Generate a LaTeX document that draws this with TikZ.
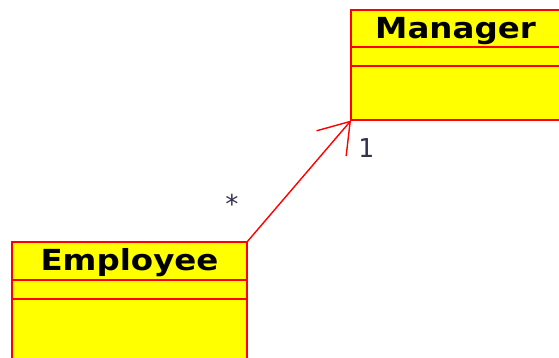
\documentclass[tikz,border=0pt]{standalone}
\usepackage{fontspec}
\usetikzlibrary{positioning,arrows.meta}
\newfontfamily\classfont{DejaVu Sans Bold}[FakeStretch=1.12]
\newfontfamily\multfont{DejaVu Sans Mono}
\definecolor{multcolor}{RGB}{50,50,80}
\definecolor{classfill}{RGB}{255,255,0}
\definecolor{classline}{RGB}{255,0,0}
\tikzset{
  classname/.style={draw=classline,fill=classfill,line width=2pt,outer sep=0pt,inner sep=0pt,
    minimum width=#1,minimum height=37.5pt,text height=20pt,text depth=0pt,
    font=\classfont\fontsize{29}{34}\selectfont},
  classpart/.style={draw=classline,fill=classfill,line width=2pt,outer sep=0pt,inner sep=0pt,minimum width=#1},
  mult/.style={text=multcolor,inner sep=0pt,anchor=base,font=\multfont\fontsize{26}{30}\selectfont},
  assoc/.style={draw=classline,line width=1.4pt,-{Straight Barb[length=29pt,width=39pt]}}
}
\begin{document}
\begin{tikzpicture}[x=1pt,y=-1pt]
  \path[use as bounding box,clip] (0,0) rectangle (559,358);
  % Manager class
  \node (manager) [classname=209pt,anchor=north west] at (351,10) {Manager};
  \node (managerattr) [classpart=209pt,minimum height=19pt,below=0pt of manager] {};
  \node (managerops) [classpart=209pt,minimum height=54pt,below=0pt of managerattr] {};
  % Employee class
  \node (employee) [classname=235pt,anchor=north west] at (12,242) {Employee};
  \node (employeeattr) [classpart=235pt,minimum height=19pt,below=0pt of employee] {};
  \node (employeeops) [classpart=235pt,minimum height=80pt,below=0pt of employeeattr] {};
  % association
  \draw [assoc] (employee.north east) -- (managerops.south west);
  \node (many) [mult] at (232,213) {*};
  \node (one) [mult] at (366,158) {1};
\end{tikzpicture}
\end{document}
